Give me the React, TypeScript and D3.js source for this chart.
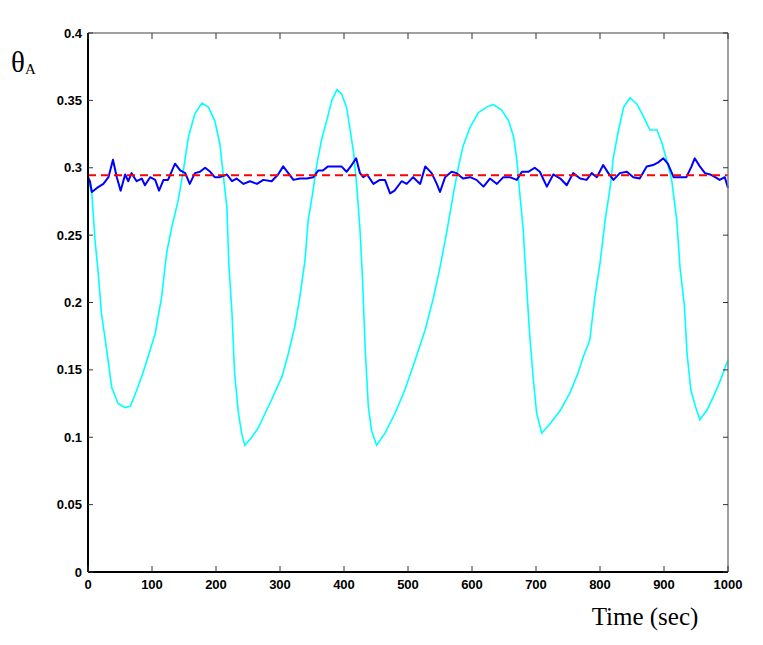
import * as d3 from 'd3';
import * as React from 'react';

const W = 763;
const H = 645;
const M = { left: 88, right: 35, top: 33, bottom: 73 };

// reference level (dashed red)
const refLevel = 0.2945;

// cyan trace: time (sec) and theta_A
const cyanTime = [
  0, 6, 11, 16, 21, 27, 32, 37, 47, 58, 66, 73, 84, 94, 105, 115, 123, 131, 141, 149,
  157, 167, 178, 188, 198, 206, 211, 217, 220, 225, 229, 235, 240, 245, 256, 266, 277, 287, 303, 313,
  323, 331, 339, 344, 351, 357, 365, 373, 381, 389, 396, 404, 409, 415, 420, 425, 429, 433, 438, 443,
  451, 464, 480, 495, 511, 527, 540, 550, 560, 571, 579, 586, 597, 610, 623, 633, 646, 657, 665, 670,
  675, 680, 684, 690, 696, 701, 709, 722, 738, 753, 766, 774, 784, 792, 800, 808, 816, 821, 829, 837,
  847, 858, 868, 878, 889, 897, 904, 912, 920, 925, 932, 936, 942, 949, 956, 967, 977, 988, 998, 1000,
];
const cyanTheta = [
  0.291, 0.281, 0.246, 0.222, 0.192, 0.172, 0.155, 0.137, 0.125, 0.122, 0.123, 0.131, 0.145, 0.16, 0.177, 0.204, 0.237, 0.256, 0.276, 0.298,
  0.323, 0.34, 0.348, 0.345, 0.335, 0.318, 0.296, 0.271, 0.229, 0.192, 0.148, 0.118, 0.103, 0.094, 0.1, 0.107, 0.118, 0.128, 0.145, 0.162,
  0.182, 0.204, 0.231, 0.261, 0.281, 0.301, 0.321, 0.335, 0.35, 0.358, 0.355, 0.345, 0.33, 0.311, 0.286, 0.254, 0.217, 0.167, 0.123, 0.105,
  0.094, 0.103, 0.118, 0.135, 0.157, 0.18, 0.204, 0.226, 0.251, 0.281, 0.301, 0.316, 0.33, 0.341, 0.345, 0.347, 0.343, 0.335, 0.323, 0.306,
  0.279, 0.254, 0.222, 0.177, 0.142, 0.118, 0.103, 0.11, 0.12, 0.133, 0.148, 0.16, 0.172, 0.204, 0.229, 0.261, 0.286, 0.308, 0.328, 0.345,
  0.352, 0.347, 0.338, 0.328, 0.328, 0.318, 0.306, 0.291, 0.261, 0.226, 0.197, 0.162, 0.135, 0.123, 0.113, 0.12, 0.13, 0.142, 0.155, 0.157,
];

// blue trace
const blueTime = [
  0, 3, 6, 14, 24, 32, 39, 45, 51, 58, 63, 68, 76, 84, 89, 97, 105, 111, 118, 125,
  136, 144, 152, 159, 167, 175, 183, 191, 198, 206, 217, 225, 232, 243, 253, 264, 274, 287, 297, 305,
  313, 321, 331, 342, 352, 360, 367, 375, 386, 396, 404, 412, 419, 425, 430, 436, 446, 456, 464, 472,
  479, 490, 498, 508, 519, 527, 537, 545, 550, 558, 568, 576, 586, 597, 607, 618, 628, 639, 649, 659,
  670, 678, 688, 698, 706, 717, 727, 738, 748, 758, 769, 779, 787, 795, 805, 813, 821, 831, 842, 852,
  862, 873, 883, 891, 899, 906, 915, 925, 935, 943, 948, 956, 964, 972, 980, 987, 995, 1000,
];
const blueTheta = [
  0.293, 0.29, 0.282, 0.285, 0.288, 0.293, 0.306, 0.293, 0.283, 0.295, 0.29, 0.296, 0.29, 0.292, 0.287, 0.293, 0.291, 0.283, 0.291, 0.291,
  0.303, 0.298, 0.296, 0.288, 0.296, 0.297, 0.3, 0.297, 0.293, 0.293, 0.295, 0.29, 0.292, 0.288, 0.29, 0.288, 0.291, 0.29, 0.295, 0.301,
  0.296, 0.291, 0.292, 0.292, 0.293, 0.298, 0.298, 0.301, 0.301, 0.301, 0.297, 0.302, 0.307, 0.296, 0.293, 0.295, 0.288, 0.291, 0.291, 0.281,
  0.283, 0.29, 0.288, 0.293, 0.288, 0.301, 0.296, 0.288, 0.282, 0.293, 0.297, 0.296, 0.292, 0.293, 0.291, 0.286, 0.292, 0.288, 0.293, 0.293,
  0.291, 0.297, 0.297, 0.3, 0.297, 0.286, 0.295, 0.292, 0.287, 0.296, 0.292, 0.291, 0.296, 0.293, 0.302, 0.296, 0.291, 0.296, 0.297, 0.293,
  0.292, 0.301, 0.302, 0.304, 0.307, 0.303, 0.293, 0.293, 0.293, 0.301, 0.307, 0.301, 0.296, 0.295, 0.293, 0.291, 0.293, 0.285,
];

const xTicks = [0, 100, 200, 300, 400, 500, 600, 700, 800, 900, 1000];
const yTicks = [0, 0.05, 0.1, 0.15, 0.2, 0.25, 0.3, 0.35, 0.4];
const yTickLabels = ['0', '0.05', '0.1', '0.15', '0.2', '0.25', '0.3', '0.35', '0.4'];

export default function App() {
  const x = d3.scaleLinear().domain([0, 1000]).range([M.left, W - M.right]);
  const y = d3.scaleLinear().domain([0, 0.4]).range([H - M.bottom, M.top]);

  const line = d3
    .line<[number, number]>()
    .x(d => x(d[0]))
    .y(d => y(d[1]));

  const cyan = cyanTime.map((t, i) => [t, cyanTheta[i]] as [number, number]);
  const blue = blueTime.map((t, i) => [t, blueTheta[i]] as [number, number]);

  const [x0, x1] = x.range();
  const [y0, y1] = y.range();
  const tickFont = { fontFamily: 'Liberation Sans, Arial, sans-serif', fontSize: 13, fontWeight: 'bold' as const };

  return (
    <svg
      width={W}
      height={H}
      viewBox={`0 0 ${W} ${H}`}
      style={{ position: 'absolute', left: 0, top: 0, background: '#fff' }}
    >
      <rect x={0} y={0} width={W} height={H} fill="#fff" />

      <path d={line(cyan) || ''} fill="none" stroke="#00ffff" strokeWidth={1.6} />
      <path d={line(blue) || ''} fill="none" stroke="#0000ff" strokeWidth={2} strokeLinejoin="round" />
      <line
        x1={x0}
        x2={x1}
        y1={y(refLevel)}
        y2={y(refLevel)}
        stroke="#ff0000"
        strokeWidth={2}
        strokeDasharray="8,5"
      />

      {/* frame */}
      <line x1={x0} x2={x1} y1={y1} y2={y1} stroke="#808080" strokeWidth={1.5} />
      <line x1={x1} x2={x1} y1={y1} y2={y0} stroke="#808080" strokeWidth={1.5} />
      <line x1={x0} x2={x1} y1={y0} y2={y0} stroke="#000" strokeWidth={2} />
      <line x1={x0} x2={x0} y1={y1} y2={y0} stroke="#000" strokeWidth={2} />

      {xTicks.map(t => (
        <g key={`x${t}`}>
          <line x1={x(t)} x2={x(t)} y1={y0} y2={y0 - 6} stroke="#333" strokeWidth={1} />
          <line x1={x(t)} x2={x(t)} y1={y1} y2={y1 + 6} stroke="#333" strokeWidth={1} />
          <text x={x(t)} y={y0 + 17} textAnchor="middle" {...tickFont}>
            {t}
          </text>
        </g>
      ))}

      {yTicks.map((v, i) => (
        <g key={`y${i}`}>
          <line x1={x0} x2={x0 + 5} y1={y(v)} y2={y(v)} stroke="#333" strokeWidth={1} />
          <line x1={x1} x2={x1 - 5} y1={y(v)} y2={y(v)} stroke="#333" strokeWidth={1} />
          <text x={x0 - 6} y={y(v) + 4.5} textAnchor="end" {...tickFont}>
            {yTickLabels[i]}
          </text>
        </g>
      ))}

      <text x={11} y={72} fontFamily="Liberation Serif, Times New Roman, serif" fontSize={29}>
        θ
        <tspan fontSize={15} dy={2}>
          A
        </tspan>
      </text>

      <text x={645} y={625} textAnchor="middle" fontFamily="Liberation Serif, Times New Roman, serif" fontSize={25}>
        Time (sec)
      </text>
    </svg>
  );
}
